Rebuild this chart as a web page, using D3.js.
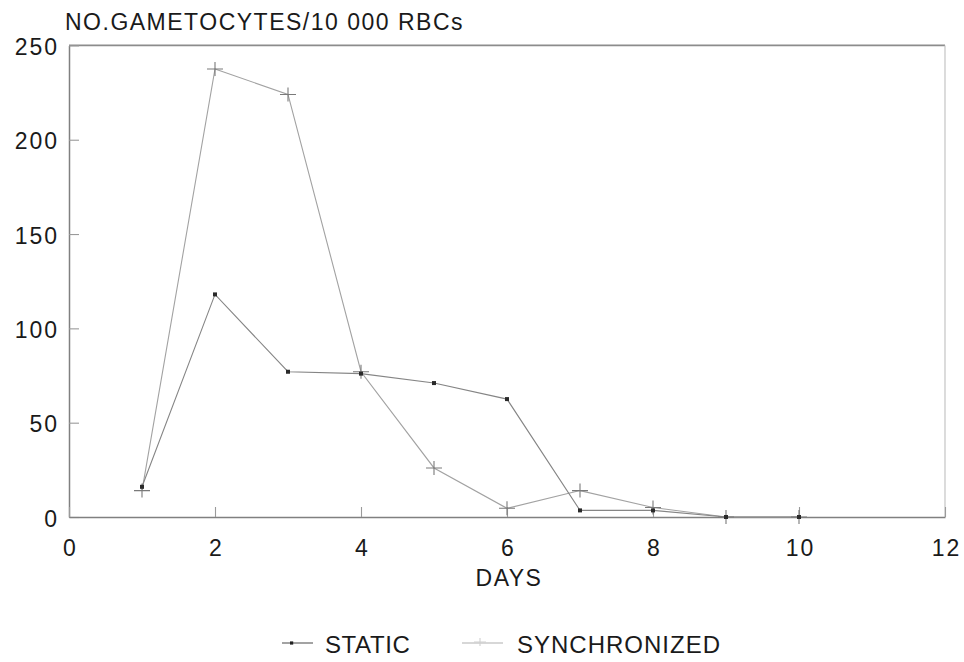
<!DOCTYPE html>
<html>
<head>
<meta charset="utf-8">
<script src="https://cdn.jsdelivr.net/npm/d3@7"></script>
<style>
  html, body { margin: 0; padding: 0; background: #fff; }
  svg { display: block; }
  text { font-family: "Liberation Sans", Arial, Helvetica, sans-serif; fill: #1a1a1a; }
</style>
</head>
<body>
<svg id="chart" width="964" height="662"></svg>
<script>
// Gametocyte counts per 10 000 red blood cells, by day
const days = [1, 2, 3, 4, 5, 6, 7, 8, 9, 10];
const staticVals = [16, 118, 77, 76, 71, 62.5, 3.5, 3.5, 0, 0];
const synchronizedVals = [14, 237.5, 224, 77, 26, 4.6, 14, 5, 0, 0];

const xTicks = [0, 2, 4, 6, 8, 10, 12];
const yTicks = [0, 50, 100, 150, 200, 250];

const titleText = "NO.GAMETOCYTES/10 000 RBCs";
const xLabel = "DAYS";
const seriesNames = ["STATIC", "SYNCHRONIZED"];

const svg = d3.select("#chart");

const x = d3.scaleLinear().domain([0, 12]).range([69, 945]);
const y = d3.scaleLinear().domain([0, 250]).range([517, 45.4]);

const axisColor = "#808080";
const staticColor = "#858585";
const syncColor = "#a2a2a2";

// frame: top edge (darker) and right edge (faint)
svg.append("line")
  .attr("x1", x(0)).attr("x2", x(12)).attr("y1", y(250)).attr("y2", y(250))
  .attr("stroke", "#8c8c8c").attr("stroke-width", 1.6);
svg.append("line")
  .attr("x1", x(12)).attr("x2", x(12)).attr("y1", y(250)).attr("y2", y(0))
  .attr("stroke", "#c4c4c4").attr("stroke-width", 1.2);

// left axis, ticks pointing into the plot
const yAxis = svg.append("g")
  .attr("transform", `translate(${x(0)},0)`)
  .call(d3.axisLeft(y).tickValues(yTicks).tickSizeInner(-10).tickSizeOuter(0).tickPadding(10));

// bottom axis, ticks pointing up
const xAxis = svg.append("g")
  .attr("transform", `translate(0,${y(0)})`)
  .call(d3.axisBottom(x).tickValues(xTicks).tickSizeInner(-10).tickSizeOuter(0).tickPadding(23));

[yAxis, xAxis].forEach(g => {
  g.select(".domain").attr("stroke", axisColor).attr("stroke-width", 1.5);
  g.selectAll(".tick line").attr("stroke", "#9a9a9a").attr("stroke-width", 1.1);
  g.selectAll(".tick text")
    .style("font-family", '"Liberation Sans", Arial, sans-serif')
    .style("font-size", "23px")
    .style("letter-spacing", "2px")
    .attr("fill", "#1a1a1a");
});
yAxis.selectAll(".tick text").attr("dy", "0.4em");
xAxis.selectAll(".tick text").attr("dx", "1px");

// title above the value axis
svg.append("text")
  .attr("x", 65)
  .attr("y", 30)
  .style("font-size", "23px")
  .style("letter-spacing", "1.5px")
  .text(titleText);

// horizontal axis label
svg.append("text")
  .attr("x", (x(0) + x(12)) / 2 + 2)
  .attr("y", 586)
  .attr("text-anchor", "middle")
  .style("font-size", "23px")
  .style("letter-spacing", "1.5px")
  .text(xLabel);

const line = d3.line()
  .x((d, i) => x(days[i]))
  .y(d => y(d));

// synchronized series: line with plus markers
svg.append("path")
  .datum(synchronizedVals)
  .attr("d", line)
  .attr("fill", "none")
  .attr("stroke", syncColor)
  .attr("stroke-width", 1.1);

// static series: line with small square markers
svg.append("path")
  .datum(staticVals)
  .attr("d", line)
  .attr("fill", "none")
  .attr("stroke", staticColor)
  .attr("stroke-width", 1.1);

const plus = (g, cx, cy, w, h, color) => {
  g.append("path")
    .attr("d", `M${cx - w / 2},${cy} H${cx + w / 2} M${cx},${cy - h / 2} V${cy + h / 2}`)
    .attr("stroke", color)
    .attr("stroke-width", 1.1)
    .attr("fill", "none");
};

const syncMarks = svg.append("g");
synchronizedVals.forEach((v, i) => plus(syncMarks, x(days[i]), y(v), 16, 14, "#7a7a7a"));

svg.append("g")
  .selectAll("rect")
  .data(staticVals)
  .join("rect")
  .attr("x", (d, i) => x(days[i]) - 2)
  .attr("y", d => y(d) - 2)
  .attr("width", 4)
  .attr("height", 4)
  .attr("fill", "#2a2a2a");

// legend
const legY = 643;
const leg = svg.append("g");
leg.append("line")
  .attr("x1", 282).attr("x2", 313).attr("y1", legY).attr("y2", legY)
  .attr("stroke", "#666").attr("stroke-width", 1.2);
leg.append("rect")
  .attr("x", 290).attr("y", legY - 1.6).attr("width", 3.2).attr("height", 3.2)
  .attr("fill", "#222");
leg.append("text")
  .attr("x", 325).attr("y", 653)
  .style("font-size", "24px")
  .style("letter-spacing", "0.6px")
  .text(seriesNames[0]);

leg.append("line")
  .attr("x1", 462).attr("x2", 503).attr("y1", legY).attr("y2", legY)
  .attr("stroke", "#b0b0b0").attr("stroke-width", 1.2);
plus(leg, 480, legY - 1, 12, 8, "#d0d0d0");
leg.append("text")
  .attr("x", 517).attr("y", 653)
  .style("font-size", "24px")
  .style("letter-spacing", "1px")
  .text(seriesNames[1]);
</script>
</body>
</html>
